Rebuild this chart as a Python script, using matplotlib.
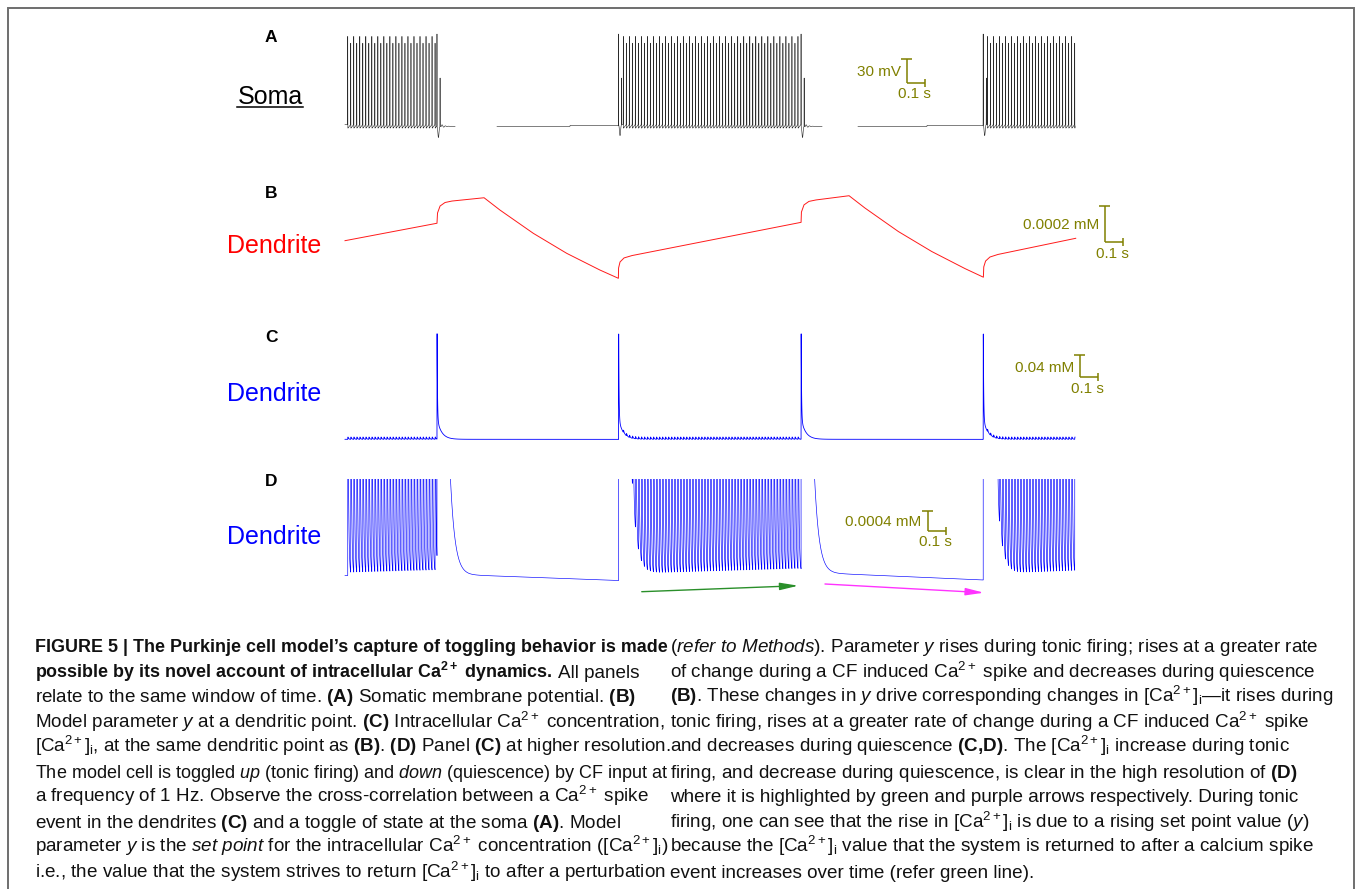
import numpy as np
import matplotlib
matplotlib.use("Agg")
import matplotlib.pyplot as plt
from matplotlib import font_manager as fm
from matplotlib.patches import Rectangle
from matplotlib.lines import Line2D


def have_font(name):
    try:
        fm.findfont(fm.FontProperties(family=name), fallback_to_default=False)
        return True
    except Exception:
        return False


cap_family = 'Liberation Sans Narrow' if have_font('Liberation Sans Narrow') else 'Liberation Sans'

plt.rcParams['font.family'] = ['Liberation Sans', 'DejaVu Sans']
plt.rcParams['mathtext.fontset'] = 'custom'
plt.rcParams['mathtext.rm'] = cap_family
plt.rcParams['mathtext.it'] = cap_family + ':italic'
plt.rcParams['mathtext.bf'] = cap_family + ':bold'
plt.rcParams['path.simplify'] = False

W, H = 1355, 889
OLIVE = '#808000'

# ---------------- values ----------------
t_end = 4.0
dt = 0.0002
cf_times = [0.504, 1.499, 2.499, 3.497]          # CF input, 1 Hz
toggle_down = [True, False, True, False]

# soma (A), mV
region_start = [0.0, 1.499, 3.497]               # tonic firing periods
region_end = [0.504, 2.499, 4.0]
tonic_first = [0.015, 1.525, 3.520]
tonic_last = [0.500, 2.495, 4.000]
isi = 0.0165
v_rest = -60.0
v_peak = 52.0
v_cf_dip = -74.0
v_spikelet = 0.0
quiet_steps = [(0.504, 1.233, -60.4), (1.233, 1.499, -59.4),
               (2.499, 3.189, -60.4), (3.189, 3.497, -59.4)]
soma_gaps = [(0.603, 0.833), (2.614, 2.811)]

# set point y (B), mM
y_t = [0.000, 0.504, 0.507, 0.521, 0.548, 0.586, 0.762, 0.849, 1.032, 1.215,
       1.397, 1.498, 1.499, 1.507, 1.529, 1.573, 2.499, 2.501, 2.515, 2.542,
       2.581, 2.762, 2.849, 3.032, 3.215, 3.397, 3.498, 3.500, 3.510, 3.534,
       3.578, 4.004]
y_v = [0.001205, 0.001300, 0.001356, 0.001394, 0.001413, 0.001421, 0.001439,
       0.001372, 0.001245, 0.001136, 0.001045, 0.001000, 0.001056, 0.001089,
       0.001111, 0.001124, 0.001305, 0.001361, 0.001400, 0.001419, 0.001427,
       0.001450, 0.001383, 0.001255, 0.001146, 0.001053, 0.001006, 0.001062,
       0.001094, 0.001116, 0.001130, 0.001218]

# [Ca2+]i (C, D), mM
ca_floor_t = [0.0, 0.50, 0.68, 1.50, 1.57, 2.50, 2.68, 3.50, 3.57, 4.0]
ca_floor_v = [0.00019, 0.00024, 0.00020, 0.00009, 0.00017, 0.00027, 0.00023,
              0.00010, 0.00017, 0.00023]
ca_spike_amp = 0.004
cf_ca_fast, cf_ca_slow = 0.155, 0.035

green_arrow = [(1.626, -0.000134), (2.484, -0.000014)]
magenta_arrow = [(2.630, 0.000020), (3.501, -0.000154)]

# ---------------- traces ----------------
t = np.arange(0, t_end + dt / 2, dt)

v = np.full(t.shape, v_rest)
tonic_spikes = [np.arange(a, b + 1e-9, isi) for a, b in zip(tonic_first, tonic_last)]
for sp, r0, r1 in zip(tonic_spikes, region_start, region_end):
    m = (t >= r0) & (t < r1)
    k = np.searchsorted(sp, t[m], side='right') - 1
    frac = np.where(k >= 0, (t[m] - sp[np.maximum(k, 0)]) / isi, 1.0)
    v[m] = v_rest - 3 + 5 * np.clip(frac, 0, 1)
for a, b, lvl in quiet_steps:
    v[(t >= a) & (t < b)] = lvl

for cf, down in zip(cf_times, toggle_down):
    v += (v_cf_dip - v_rest) * np.exp(-0.5 * ((t - cf - 0.008) / 0.003) ** 2)
    if down:
        s = t - cf - 0.024
        w = np.where(s > 0, 2.5 * np.sin(2 * np.pi * s / 0.018) * np.exp(-s / 0.015), 0)
        v += w


def add_spike(arr, ts, peak, sig=0.00025):
    g = np.exp(-0.5 * ((t - ts) / sig) ** 2)
    arr += (peak - arr) * g


for sp in tonic_spikes:
    for ts in sp:
        add_spike(v, ts, v_peak)
for cf in cf_times:
    add_spike(v, cf, v_peak + 3)
    add_spike(v, cf + 0.017, v_spikelet)
for a, b in soma_gaps:
    v[(t > a) & (t < b)] = np.nan

ca = np.interp(t, ca_floor_t, ca_floor_v)


def add_transient(arr, t0, amp, tau_r, tau_d):
    m = (t >= t0) & (t < t0 + 14 * tau_d)
    s = t[m] - t0
    k = np.exp(-s / tau_d) - np.exp(-s / tau_r)
    arr[m] += amp * k / k.max()


for sp in tonic_spikes:
    for ts in sp:
        add_transient(ca, ts, ca_spike_amp, 0.0006, 0.0035)
for cf in cf_times:
    add_transient(ca, cf, cf_ca_fast, 0.0002, 0.002)
    add_transient(ca, cf, cf_ca_slow, 0.0002, 0.025)

# ---------------- figure ----------------
fig = plt.figure(figsize=(W / 100, H / 100), dpi=100)
fig.patches.append(Rectangle((8 / W, -0.1), 1346 / W, 1 - 8 / H + 0.1,
                             transform=fig.transFigure, fill=False,
                             edgecolor='#6e6e6e', lw=1.4))

X0, PPS = 345.0, 182.5
L_PX, R_PX = 290.0, 1200.0


def panel(top, bottom, ref_px, ref_val, ppu):
    ax = fig.add_axes([L_PX / W, 1 - bottom / H, (R_PX - L_PX) / W, (bottom - top) / H])
    ax.set_xlim((L_PX - X0) / PPS, (R_PX - X0) / PPS)
    ax.set_ylim(ref_val - (bottom - ref_px) / ppu, ref_val + (ref_px - top) / ppu)
    ax.axis('off')
    return ax


def scale_bar(ax, t0, v0, dv, label, ppu):
    cap = 5.5 / PPS
    tick = 4.0 / ppu
    kw = dict(color=OLIVE, lw=1.1, solid_capstyle='butt', clip_on=False)
    ax.plot([t0, t0], [v0, v0 + dv], **kw)
    ax.plot([t0 - cap, t0 + cap], [v0 + dv, v0 + dv], **kw)
    ax.plot([t0, t0 + 0.1], [v0, v0], **kw)
    ax.plot([t0 + 0.1, t0 + 0.1], [v0 - tick, v0 + tick], **kw)
    ax.annotate(label, (t0, v0 + dv / 2), xytext=(-6, -5.5), textcoords='offset pixels',
                ha='right', va='baseline', color=OLIVE, fontsize=11)
    ax.annotate('0.1 s', (t0, v0), xytext=(-9, -15.5), textcoords='offset pixels',
                ha='left', va='baseline', color=OLIVE, fontsize=11)


axA = panel(22, 145, 126, -60.0, 0.8)
axA.plot(t, v, color='#2a2a2a', lw=0.42)
scale_bar(axA, 3.078, -6.25, 30, '30 mV', 0.8)

axB = panel(175, 295, 278.3, 0.0010, 183500)
axB.plot(y_t, y_v, color='#ff1a1a', lw=0.7)
scale_bar(axB, 4.164, 0.001196, 0.0002, '0.0002 mM', 183500)

axC = panel(322, 452, 439.3, 0.0002, 557.5)
axC.plot(t, ca, color='blue', lw=0.6)
scale_bar(axC, 4.027, 0.1114, 0.04, '0.04 mM', 557.5)

axD = panel(479, 605, 580, 0.0001, 50000)
axD.plot(t, ca, color='blue', lw=0.45)
scale_bar(axD, 3.193, 0.001086, 0.0004, '0.0004 mM', 50000)
for (p0, p1), col in [(green_arrow, '#2a8f2a'), (magenta_arrow, '#ff33ff')]:
    axD.annotate('', xy=p1, xytext=p0,
                 arrowprops=dict(arrowstyle='-|>,head_length=1.1,head_width=0.22',
                                 color=col, lw=1.0, mutation_scale=10,
                                 shrinkA=0, shrinkB=0))


def ftext(x, y, s, **kw):
    return fig.text(x / W, 1 - y / H, s, **kw)


for letter, yb in zip('ABCD', [41.7, 198, 341.7, 486]):
    ftext(271, yb, letter, ha='center', va='baseline', fontsize=12.5, fontweight='bold')
soma = ftext(270, 104, 'Soma', ha='center', va='baseline', fontsize=18)
ftext(274, 253, 'Dendrite', ha='center', va='baseline', fontsize=18, color='#ff0000')
ftext(274, 401, 'Dendrite', ha='center', va='baseline', fontsize=18, color='#0000ff')
ftext(274, 544, 'Dendrite', ha='center', va='baseline', fontsize=18, color='#0000ff')

# ---------------- caption ----------------
left_lines = [
    "FIGURE 5 | The Purkinje cell model\u2019s capture of toggling behavior is made",
    r"possible by its novel account of intracellular Ca$^{\mathbf{2+}}$ dynamics.",
    r"relate to the same window of time. $\mathbf{(A)}$ Somatic membrane potential. $\mathbf{(B)}$",
    r"Model parameter $\mathit{y}$ at a dendritic point. $\mathbf{(C)}$ Intracellular Ca$^{2+}$ concentration,",
    r"[Ca$^{2+}$]$_{\mathrm{i}}$, at the same dendritic point as $\mathbf{(B)}$. $\mathbf{(D)}$ Panel $\mathbf{(C)}$ at higher resolution.",
    r"The model cell is toggled $\mathit{up}$ (tonic firing) and $\mathit{down}$ (quiescence) by CF input at",
    r"a frequency of 1 Hz. Observe the cross-correlation between a Ca$^{2+}$ spike",
    r"event in the dendrites $\mathbf{(C)}$ and a toggle of state at the soma $\mathbf{(A)}$. Model",
    r"parameter $\mathit{y}$ is the $\mathit{set\ point}$ for the intracellular Ca$^{2+}$ concentration ([Ca$^{2+}$]$_{\mathrm{i}}$)",
    r"i.e., the value that the system strives to return [Ca$^{2+}$]$_{\mathrm{i}}$ to after a perturbation",
]
right_lines = [
    r"($\mathit{refer\ to\ Methods}$). Parameter $\mathit{y}$ rises during tonic firing; rises at a greater rate",
    r"of change during a CF induced Ca$^{2+}$ spike and decreases during quiescence",
    r"$\mathbf{(B)}$. These changes in $\mathit{y}$ drive corresponding changes in [Ca$^{2+}$]$_{\mathrm{i}}$" + "\u2014it rises during",
    r"tonic firing, rises at a greater rate of change during a CF induced Ca$^{2+}$ spike",
    r"and decreases during quiescence $\mathbf{(C{,}D)}$. The [Ca$^{2+}$]$_{\mathrm{i}}$ increase during tonic",
    r"firing, and decrease during quiescence, is clear in the high resolution of $\mathbf{(D)}$",
    "where it is highlighted by green and purple arrows respectively. During tonic",
    r"firing, one can see that the rise in [Ca$^{2+}$]$_{\mathrm{i}}$ is due to a rising set point value ($\mathit{y}$)",
    r"because the [Ca$^{2+}$]$_{\mathrm{i}}$ value that the system is returned to after a calcium spike",
    "event increases over time (refer green line).",
]
cap_y0, cap_dy = 652.5, 25.0
left_x, left_end, left_limit = 35, 660, 667
right_x, right_end, right_limit = 670, 1336, 1344
fs0 = 12
cap_color = '#111111'
cap_kw = dict(fontsize=fs0, color=cap_color, ha='left', va='baseline',
              family=[cap_family, 'DejaVu Sans'])
left_texts = []
for i, s in enumerate(left_lines):
    left_texts.append(ftext(left_x, cap_y0 + i * cap_dy, s,
                            fontweight='bold' if i < 2 else 'normal', **cap_kw))
right_texts = []
for i, s in enumerate(right_lines):
    right_texts.append(ftext(right_x, cap_y0 + i * cap_dy, s, **cap_kw))

fig.canvas.draw()
r = fig.canvas.get_renderer()
fs_bold = fs0 * (left_end - left_x) / left_texts[0].get_window_extent(r).width
fs_reg = 0.975 * fs0 * (right_end - right_x) / right_texts[0].get_window_extent(r).width
for i, txt in enumerate(left_texts):
    txt.set_fontsize(fs_bold if i < 2 else fs_reg)
for txt in right_texts:
    txt.set_fontsize(fs_reg)
fig.canvas.draw()
# keep each line inside its column
for texts, x0, limit in [(left_texts, left_x, left_limit), (right_texts, right_x, right_limit)]:
    for txt in texts:
        bb = txt.get_window_extent(r)
        if bb.x1 > limit:
            txt.set_fontsize(txt.get_fontsize() * (limit - x0) / bb.width)
fig.canvas.draw()
bb = left_texts[1].get_window_extent(r)
extra_kw = dict(cap_kw, fontsize=fs_reg)
ftext(bb.x1 + 0.26 * fs_reg * 100 / 72, cap_y0 + cap_dy, "All panels", **extra_kw)

# underline under "Soma"
sb = soma.get_window_extent(r)
fig.add_artist(Line2D([sb.x0 / W, sb.x1 / W], [1 - 106.8 / H] * 2,
                      transform=fig.transFigure, color='black', lw=1.1))

fig.savefig('out.png', dpi=100)
